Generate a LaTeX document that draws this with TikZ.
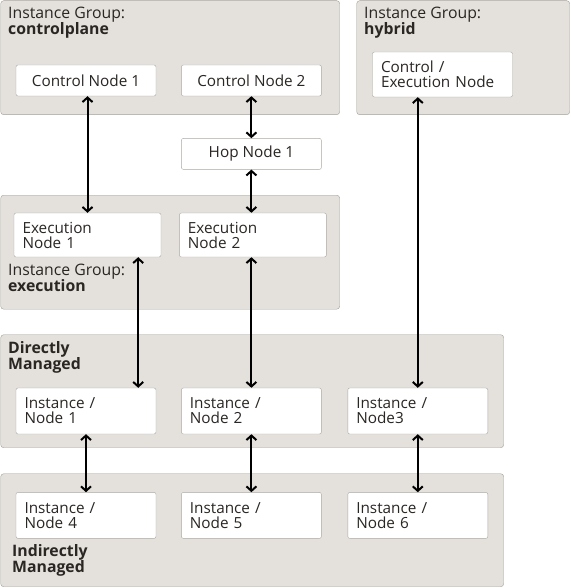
\documentclass[tikz,border=0pt]{standalone}
\usepackage{fontspec}
\setmainfont{Open Sans}
\usetikzlibrary{arrows.meta, positioning}
\definecolor{groupfill}{HTML}{E4E1DC}
\definecolor{groupdraw}{HTML}{A39F99}
\definecolor{boxdraw}{HTML}{ABA7A1}
\definecolor{textgray}{HTML}{2A2623}

\begin{document}
\begin{tikzpicture}[
        x=1pt, y=-1pt, >={Straight Barb[length=4.5pt,width=10pt]},
        every node/.style={font=\fontsize{15.3}{15}\selectfont, text=textgray},
        group/.style={rectangle, draw=groupdraw, fill=groupfill, rounded corners=3pt, anchor=north west, inner sep=0pt},
        glabel/.style={anchor=north west, align=left, inner sep=0pt, font=\fontsize{15.8}{16}\selectfont},
        block/.style={rectangle, draw=boxdraw, fill=white, rounded corners=2pt, minimum width=140pt, minimum height=31pt, inner sep=0pt, align=center},
        tallblock/.style={block, minimum height=46pt, inner xsep=8.5pt, text width=123pt, align=left},
        line/.style={draw, line width=2pt, <->},
    ]
    \useasboundingbox (0,0) rectangle (570,588);

    % Groups
    \node [group, minimum width=339pt, minimum height=114pt] (cpgroup) at (0.5,0.5) {};
    \node [group, minimum width=213pt, minimum height=114pt] (hygroup) at (356.5,0.5) {};
    \node [group, minimum width=339pt, minimum height=114pt] (exgroup) at (0.5,195) {};
    \node [group, minimum width=503pt, minimum height=113pt] (dmgroup) at (0.5,334.5) {};
    \node [group, minimum width=503pt, minimum height=113pt] (imgroup) at (0.5,473.5) {};

    \node [glabel] (cplabel) at (8,7) {Instance Group:\\\textbf{controlplane}};
    \node [glabel] (hylabel) at (364,7) {Instance Group:\\\textbf{hybrid}};
    \node [glabel] (exlabel) at (8,264) {Instance Group:\\\textbf{execution}};
    \node [glabel] (dmlabel) at (8,341) {\textbf{Directly}\\\textbf{Managed}};
    \node [glabel] (imlabel) at (12,544) {\textbf{Indirectly}\\\textbf{Managed}};

    % Nodes
    \node [block] (cn1) at (86,80.5) {Control Node 1};
    \node [block, right=25pt of cn1] (cn2) {Control Node 2};
    \node [block, below=42pt of cn2] (hop) {Hop Node 1};
    \node [tallblock, minimum height=45pt] (cen) at (442.5,74.5) {Control /\\Execution Node};
    \node [tallblock, minimum height=44pt, text width=130pt] (en1) at (87.5,235) {Execution\\Node 1};
    \node [tallblock, minimum height=44pt, text width=130pt, right=18pt of en1] (en2) {Execution\\Node 2};
    \node [tallblock] (in1) at (86,411) {Instance /\\Node 1};
    \node [tallblock, right=25pt of in1] (in2) {Instance /\\Node 2};
    \node [tallblock, right=26pt of in2] (in3) {Instance /\\Node3};
    \node [tallblock, below=58pt of in1] (in4) {Instance /\\Node 4};
    \node [tallblock, below=58pt of in2] (in5) {Instance /\\Node 5};
    \node [tallblock, below=58pt of in3] (in6) {Instance /\\Node 6};

    % Arrows
    \path [line] (cn1.south -| en1.north) -- (en1.north);
    \path [line] (cn2.south) -- (hop.north);
    \path [line] (hop.south) -- (hop.south |- en2.north);
    \path [line] ([xshift=-18pt]in1.north east |- en1.south) -- ([xshift=-18pt]in1.north east);
    \path [line] (in2.north |- en2.south) -- (in2.north);
    \path [line] (in3.north |- cen.south) -- (in3.north);
    \path [line] (in1) -- (in4);
    \path [line] (in2) -- (in5);
    \path [line] (in3) -- (in6);

\end{tikzpicture}
\end{document}
